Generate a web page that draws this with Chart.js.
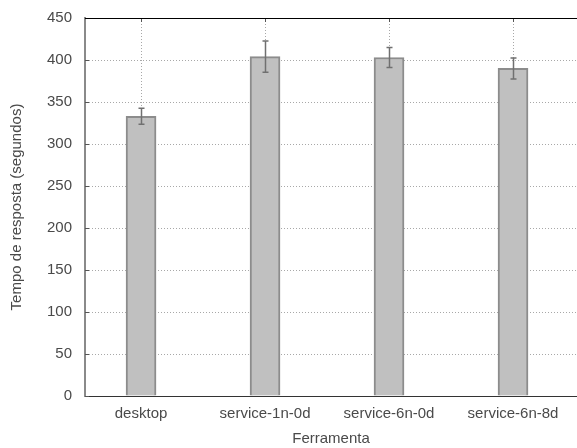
<!DOCTYPE html>
<html>
<head>
<meta charset="utf-8">
<script src="https://cdn.jsdelivr.net/npm/chart.js@4"></script>
<style>
  html, body { margin: 0; padding: 0; background: #ffffff; }
  #wrap { width: 577px; height: 448px; }
</style>
</head>
<body>
<div id="wrap"><canvas id="chart" width="577" height="448"></canvas></div>
<script>
// data
const categories = ["desktop", "service-1n-0d", "service-6n-0d", "service-6n-8d"];
const meanTimes = [333, 404, 403, 390];
const errTimes = [9.5, 18.5, 12, 12.5];
const yTicks = [0, 50, 100, 150, 200, 250, 300, 350, 400, 450];

const FONT = "'Liberation Sans', Arial, sans-serif";

// error bars + inside tick marks + top frame line
const extrasPlugin = {
  id: "extras",
  afterDatasetsDraw(chart) {
    const { ctx, chartArea, scales } = chart;
    const x = scales.x, y = scales.y;
    ctx.save();

    // error bars
    ctx.strokeStyle = "#707070";
    ctx.lineWidth = 1.5;
    meanTimes.forEach((m, i) => {
      const px = Math.round(x.getPixelForValue(i)) + 0.5;
      const top = y.getPixelForValue(m + errTimes[i]);
      const bot = y.getPixelForValue(m - errTimes[i]);
      ctx.beginPath();
      ctx.moveTo(px, top);
      ctx.lineTo(px, bot);
      ctx.moveTo(px - 3, top);
      ctx.lineTo(px + 3, top);
      ctx.moveTo(px - 3, bot);
      ctx.lineTo(px + 3, bot);
      ctx.stroke();
    });

    // inside ticks on the left axis
    ctx.strokeStyle = "#555555";
    ctx.lineWidth = 1;
    yTicks.forEach((v) => {
      const py = Math.round(y.getPixelForValue(v)) + 0.5;
      ctx.beginPath();
      ctx.moveTo(chartArea.left, py);
      ctx.lineTo(chartArea.left + 4, py);
      ctx.stroke();
    });

    // inside ticks at the top
    categories.forEach((c, i) => {
      const px = Math.round(x.getPixelForValue(i)) + 0.5;
      ctx.beginPath();
      ctx.moveTo(px, chartArea.top);
      ctx.lineTo(px, chartArea.top + 4);
      ctx.stroke();
    });

    // top frame line
    ctx.strokeStyle = "#000000";
    ctx.beginPath();
    ctx.moveTo(chartArea.left, chartArea.top + 0.5);
    ctx.lineTo(chartArea.right, chartArea.top + 0.5);
    ctx.stroke();

    ctx.restore();
  },
};

new Chart(document.getElementById("chart"), {
  type: "bar",
  data: {
    datasets: [
      {
        data: meanTimes.map((v, i) => ({ x: i, y: v })),
        backgroundColor: "#c0c0c0",
        borderColor: "#8c8c8c",
        borderWidth: 2,
        borderSkipped: "bottom",
        barThickness: 30,
      },
    ],
  },
  options: {
    responsive: false,
    animation: false,
    events: [],
    layout: { padding: { top: 18, right: 0, left: 0, bottom: 0 } },
    plugins: {
      legend: { display: false },
      tooltip: { enabled: false },
    },
    scales: {
      x: {
        type: "linear",
        offset: false,
        min: -0.452,
        max: 3.516,
        afterBuildTicks(scale) {
          scale.ticks = categories.map((c, i) => ({ value: i }));
        },
        afterFit(scale) {
          scale.height = 52;
          scale.paddingLeft = 0;
          scale.paddingRight = 0;
        },
        grid: {
          offset: false,
          color: "#a8a8a8",
          lineWidth: 1,
          drawTicks: false,
        },
        border: { color: "#333333", width: 1, dash: [1, 2] },
        ticks: {
          autoSkip: false,
          maxRotation: 0,
          padding: 9,
          color: "#4a4a4a",
          font: { family: FONT, size: 15 },
          callback: (v) => categories[v] ?? "",
        },
        title: {
          display: true,
          text: "Ferramenta",
          color: "#4a4a4a",
          font: { family: FONT, size: 15 },
          padding: { top: 7, bottom: 0 },
        },
      },
      y: {
        min: 0,
        max: 450,
        afterBuildTicks(scale) {
          scale.ticks = yTicks.map((v) => ({ value: v }));
        },
        afterFit(scale) {
          scale.width = 85;
          scale.paddingTop = 0;
          scale.paddingBottom = 0;
        },
        grid: {
          color: "#a8a8a8",
          lineWidth: 1,
          drawTicks: false,
        },
        border: { color: "#8a8a8a", width: 2, dash: [1, 2] },
        ticks: {
          padding: 13,
          color: "#4a4a4a",
          font: { family: FONT, size: 15 },
        },
        title: {
          display: true,
          text: "Tempo de resposta (segundos)",
          color: "#4a4a4a",
          font: { family: FONT, size: 15 },
          padding: { top: 8, bottom: 0 },
        },
      },
    },
  },
  plugins: [extrasPlugin],
});
</script>
</body>
</html>
